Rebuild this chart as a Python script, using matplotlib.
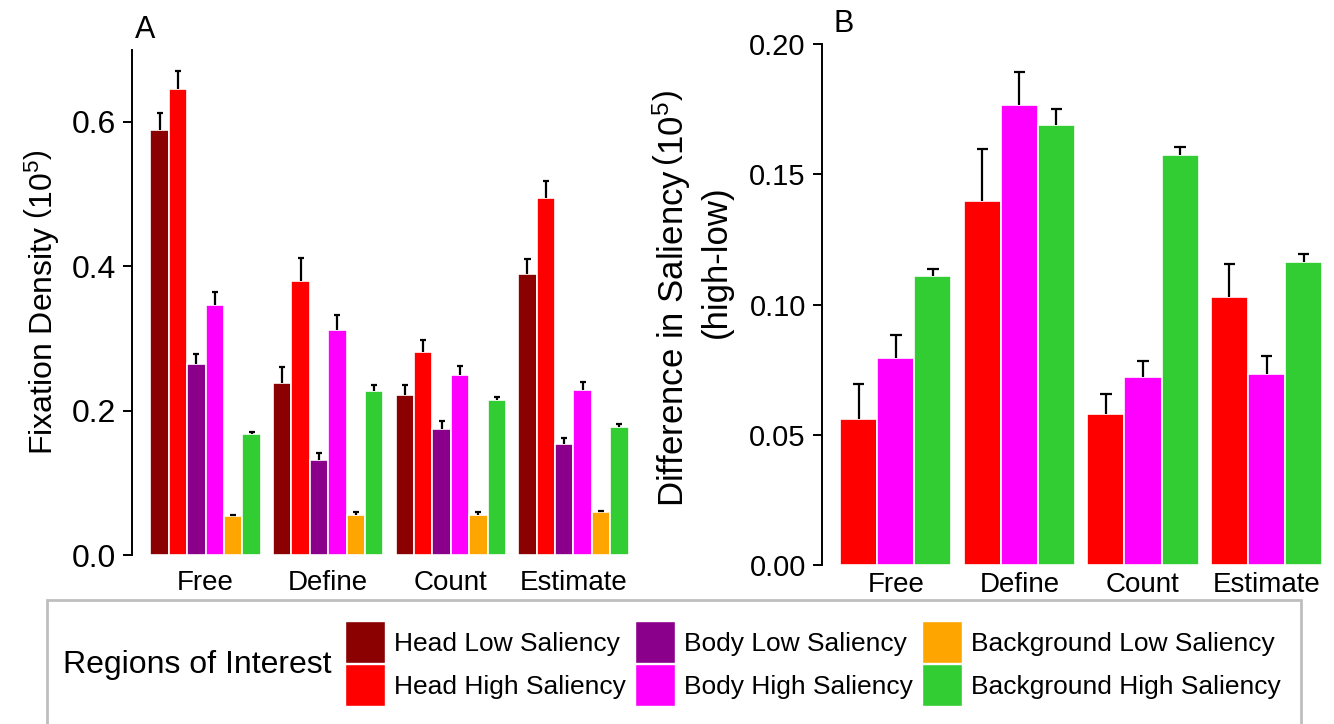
import numpy as np
import matplotlib.pyplot as plt
from matplotlib.patches import Patch, Rectangle
from matplotlib.legend_handler import HandlerPatch

plt.rcParams['font.family'] = ['Liberation Sans', 'DejaVu Sans']
plt.rcParams['mathtext.fontset'] = 'custom'
plt.rcParams['mathtext.rm'] = 'Liberation Sans'

# 数据
tasks = ['Free', 'Define', 'Count', 'Estimate']
regions = ['Head Low Saliency', 'Head High Saliency', 'Body Low Saliency',
           'Body High Saliency', 'Background Low Saliency', 'Background High Saliency']
colors = ['#8B0000', '#FF0000', '#8B008B', '#FF00FF', '#FFA500', '#32CD32']

# 面板 A: 均值 和 误差上端
head_low = [0.589, 0.238, 0.222, 0.389]
head_high = [0.646, 0.379, 0.281, 0.494]
body_low = [0.265, 0.132, 0.175, 0.154]
body_high = [0.346, 0.311, 0.249, 0.228]
bg_low = [0.054, 0.056, 0.056, 0.059]
bg_high = [0.167, 0.227, 0.215, 0.177]

head_low_se = [0.023, 0.022, 0.014, 0.021]
head_high_se = [0.025, 0.032, 0.017, 0.024]
body_low_se = [0.013, 0.010, 0.010, 0.008]
body_high_se = [0.018, 0.022, 0.013, 0.012]
bg_low_se = [0.002, 0.003, 0.003, 0.002]
bg_high_se = [0.003, 0.008, 0.004, 0.004]

# 面板 B: high - low
diff_head = [0.0562, 0.1399, 0.0581, 0.1028]
diff_body = [0.0796, 0.1766, 0.0722, 0.0734]
diff_bg = [0.1110, 0.1691, 0.1574, 0.1163]

diff_head_se = [0.0131, 0.0198, 0.0075, 0.0126]
diff_body_se = [0.0086, 0.0125, 0.0062, 0.0067]
diff_bg_se = [0.0027, 0.0060, 0.0032, 0.0031]

fig = plt.figure(figsize=(13.34, 7.24), dpi=100)
axA = fig.add_axes([0.099, 0.2334, 0.386, 0.698])
axB = fig.add_axes([0.616, 0.2196, 0.389, 0.7196])

x = np.arange(1, len(tasks) + 1)


def draw_bars(ax, series, errs, cols, cap):
    n = len(series)
    w = 0.9 / n
    for k, (vals, se, c) in enumerate(zip(series, errs, cols)):
        pos = x - 0.45 + w * (k + 0.5)
        vals = np.array(vals)
        top = vals + np.array(se)
        ax.bar(pos, vals, width=w, color=c, edgecolor='white', linewidth=1.2, zorder=2)
        # 只画上半误差线
        ax.vlines(pos, vals, top, color='black', linewidth=1.6, zorder=3)
        ax.hlines(top, pos - cap, pos + cap, color='black', linewidth=1.6, zorder=3)


def style(ax, ylim, ticks, fmt, tsize, xpad):
    ax.set_xlim(0.4, 4.6)
    ax.set_ylim(*ylim)
    ax.set_yticks(ticks)
    ax.set_yticklabels([fmt.format(t) for t in ticks], fontsize=tsize)
    ax.set_xticks(x)
    ax.set_xticklabels(tasks, fontsize=20)
    ax.tick_params(axis='x', length=0, pad=xpad)
    ax.tick_params(axis='y', length=6.5, width=1.4, pad=5)
    for s in ['top', 'right', 'bottom']:
        ax.spines[s].set_visible(False)
    ax.spines['left'].set_linewidth(1.4)


draw_bars(axA, [head_low, head_high, body_low, body_high, bg_low, bg_high],
          [head_low_se, head_high_se, body_low_se, body_high_se, bg_low_se, bg_high_se],
          colors, 0.025)
style(axA, (0, 0.70), [0.0, 0.2, 0.4, 0.6], '{:.1f}', 23, 11)
axA.set_ylabel(r'Fixation Density $\left(10^{5}\right)$', fontsize=23, labelpad=8)

draw_bars(axB, [diff_head, diff_body, diff_bg],
          [diff_head_se, diff_body_se, diff_bg_se],
          [colors[1], colors[3], colors[5]], 0.046)
style(axB, (0, 0.20), [0.0, 0.05, 0.10, 0.15, 0.20], '{:.2f}', 21, 5)
axB.text(-0.289, 0.512, 'Difference in Saliency' + r'$\,\left(10^{5}\right)$',
         transform=axB.transAxes, rotation=90, ha='center', va='center', fontsize=25)
axB.text(-0.204, 0.582, '(high-low)', transform=axB.transAxes, rotation=90,
         ha='center', va='center', fontsize=25)

fig.text(0.101, 0.947, 'A', fontsize=22)
fig.text(0.6245, 0.956, 'B', fontsize=22)


# 图例色块 更高一点
def tall_key(legend, orig_handle, xdescent, ydescent, width, height, fontsize):
    h = 1.59 * fontsize
    y0 = -ydescent + height / 2 - h / 2
    return Rectangle((-xdescent, y0), width, h)


fig.patches.append(Rectangle((0.035, -0.02), 0.94, 0.191, transform=fig.transFigure,
                             fill=False, edgecolor='#BEBEBE', linewidth=2))
fig.text(0.047, 0.081, 'Regions of Interest', fontsize=23, va='center')
handles = [Patch(facecolor=c, edgecolor='white', linewidth=1) for c in colors]
fig.legend(handles, regions, ncol=3, loc='center left', bbox_to_anchor=(0.2586, 0.0835),
           frameon=False, fontsize=19, handlelength=1.52, handleheight=1.4,
           labelspacing=0.49, columnspacing=0.34, handletextpad=0.34, borderpad=0,
           borderaxespad=0, handler_map={Patch: HandlerPatch(patch_func=tall_key)})

fig.savefig('out.png', dpi=100)
